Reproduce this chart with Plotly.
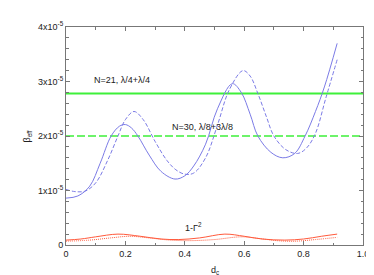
import plotly.graph_objects as go

# ---- data (units of 1e-5) ----
blue_solid_x = [0, 0.04, 0.08, 0.115, 0.152, 0.18, 0.2, 0.22, 0.242, 0.28, 0.32, 0.367, 0.40, 0.43,
                0.47, 0.51, 0.56, 0.59, 0.62, 0.646, 0.69, 0.73, 0.77, 0.805, 0.84, 0.87, 0.913]
blue_solid_y = [0.86, 0.9, 1.08, 1.5, 2.0, 2.18, 2.21, 2.15, 2.0, 1.65, 1.35, 1.21, 1.27, 1.45,
                1.85, 2.5, 2.96, 2.8, 2.4, 2.0, 1.7, 1.6, 1.68, 2.0, 2.45, 2.9, 3.7]

blue_dash_x = [0, 0.03, 0.065, 0.1, 0.14, 0.175, 0.2, 0.229, 0.26, 0.3, 0.34, 0.37, 0.40, 0.43, 0.47,
               0.51, 0.55, 0.596, 0.62, 0.646, 0.675, 0.70, 0.74, 0.78, 0.81, 0.84, 0.875, 0.913]
blue_dash_y = [1.02, 0.98, 0.99, 1.14, 1.55, 2.0, 2.3, 2.45, 2.3, 1.9, 1.55, 1.38, 1.3, 1.32, 1.6,
               2.2, 2.85, 3.2, 3.1, 2.78, 2.35, 2.0, 1.75, 1.68, 1.78, 2.05, 2.7, 3.4]

red_solid_x = [0, 0.05, 0.1, 0.175, 0.25, 0.32, 0.38, 0.45, 0.535, 0.6, 0.66, 0.737, 0.8, 0.86, 0.913]
red_solid_y = [0.09, 0.11, 0.15, 0.2, 0.16, 0.11, 0.1, 0.13, 0.2, 0.16, 0.11, 0.09, 0.11, 0.16, 0.2]

red_dot_x = [0, 0.08, 0.15, 0.215, 0.28, 0.35, 0.42, 0.5, 0.59, 0.65, 0.71, 0.77, 0.84, 0.913]
red_dot_y = [0.07, 0.09, 0.13, 0.16, 0.13, 0.09, 0.08, 0.1, 0.15, 0.12, 0.08, 0.07, 0.1, 0.14]

green_x = [0, 1.0]
green_solid_level = 2.78
green_dash_level = 2.0

x_tickvals = [0, 0.2, 0.4, 0.6, 0.8, 1.0]
x_ticktext = ["0", "0.2", "0.4", "0.6", "0.8", "1.0"]
y_tickvals = [0, 1, 2, 3, 4]
y_ticktext = ["0", "1x10<sup>-5</sup>", "2x10<sup>-5</sup>", "3x10<sup>-5</sup>", "4x10<sup>-5</sup>"]

labels = ["N=21, λ/4+λ/4", "N=30, λ/8+3λ/8", "1-Γ<sup>2</sup>"]
label_x = [0.19, 0.46, 0.43]
label_y = [3.02, 2.16, 0.33]

BLUE = "#7b7be6"
GREEN = "#3ef03a"
RED = "#ff5a3c"
FONT = "Liberation Sans, Arial, sans-serif"

fig = go.Figure()
fig.add_trace(go.Scatter(x=green_x, y=[green_solid_level] * 2, mode="lines",
                         line=dict(color=GREEN, width=2)))
fig.add_trace(go.Scatter(x=green_x, y=[green_dash_level] * 2, mode="lines",
                         line=dict(color=GREEN, width=1.6, dash="8px,3px")))
fig.add_trace(go.Scatter(x=blue_solid_x, y=blue_solid_y, mode="lines",
                         line=dict(color=BLUE, width=1, shape="spline", smoothing=1.0)))
fig.add_trace(go.Scatter(x=blue_dash_x, y=blue_dash_y, mode="lines",
                         line=dict(color=BLUE, width=1, shape="spline", smoothing=1.0, dash="4px,2px")))
fig.add_trace(go.Scatter(x=red_solid_x, y=red_solid_y, mode="lines",
                         line=dict(color=RED, width=1, shape="spline", smoothing=1.0)))
fig.add_trace(go.Scatter(x=red_dot_x, y=red_dot_y, mode="lines",
                         line=dict(color=RED, width=1, shape="spline", smoothing=1.0, dash="1px,1px")))

for t, xx, yy in zip(labels, label_x, label_y):
    fig.add_annotation(x=xx, y=yy, text=t, showarrow=False, xref="x", yref="y",
                       font=dict(family=FONT, size=9, color="#222"))

fig.add_annotation(x=-0.155, y=2.0, text="β<sub>eff</sub>", showarrow=False, xref="paper", yref="y",
                   textangle=-90, font=dict(family=FONT, size=9, color="#222"))
fig.add_annotation(x=0.5, y=-0.115, text="d<sub>c</sub>", showarrow=False, xref="x", yref="paper",
                   yanchor="middle", font=dict(family=FONT, size=9, color="#222"))

axis_common = dict(showgrid=False, zeroline=False, showline=True, linecolor="#777", linewidth=1,
                   mirror="ticks", ticks="inside", ticklen=4, tickcolor="#777", tickwidth=1,
                   tickfont=dict(family=FONT, size=9, color="#222"))

fig.update_xaxes(range=[0, 1.0], tickvals=x_tickvals, ticktext=x_ticktext,
                 minor=dict(ticks="inside", ticklen=2.5, dtick=0.1, tickcolor="#777"),
                 **axis_common)
fig.update_yaxes(range=[0, 4.0], tickvals=y_tickvals, ticktext=y_ticktext,
                 minor=dict(ticks="inside", ticklen=2.5, dtick=0.2, tickcolor="#777"),
                 **axis_common)

fig.update_layout(width=374, height=275, showlegend=False,
                  margin=dict(l=58, r=19, t=13, b=38),
                  plot_bgcolor="white", paper_bgcolor="white",
                  font=dict(family=FONT, size=9))

fig.write_html("out.html")
